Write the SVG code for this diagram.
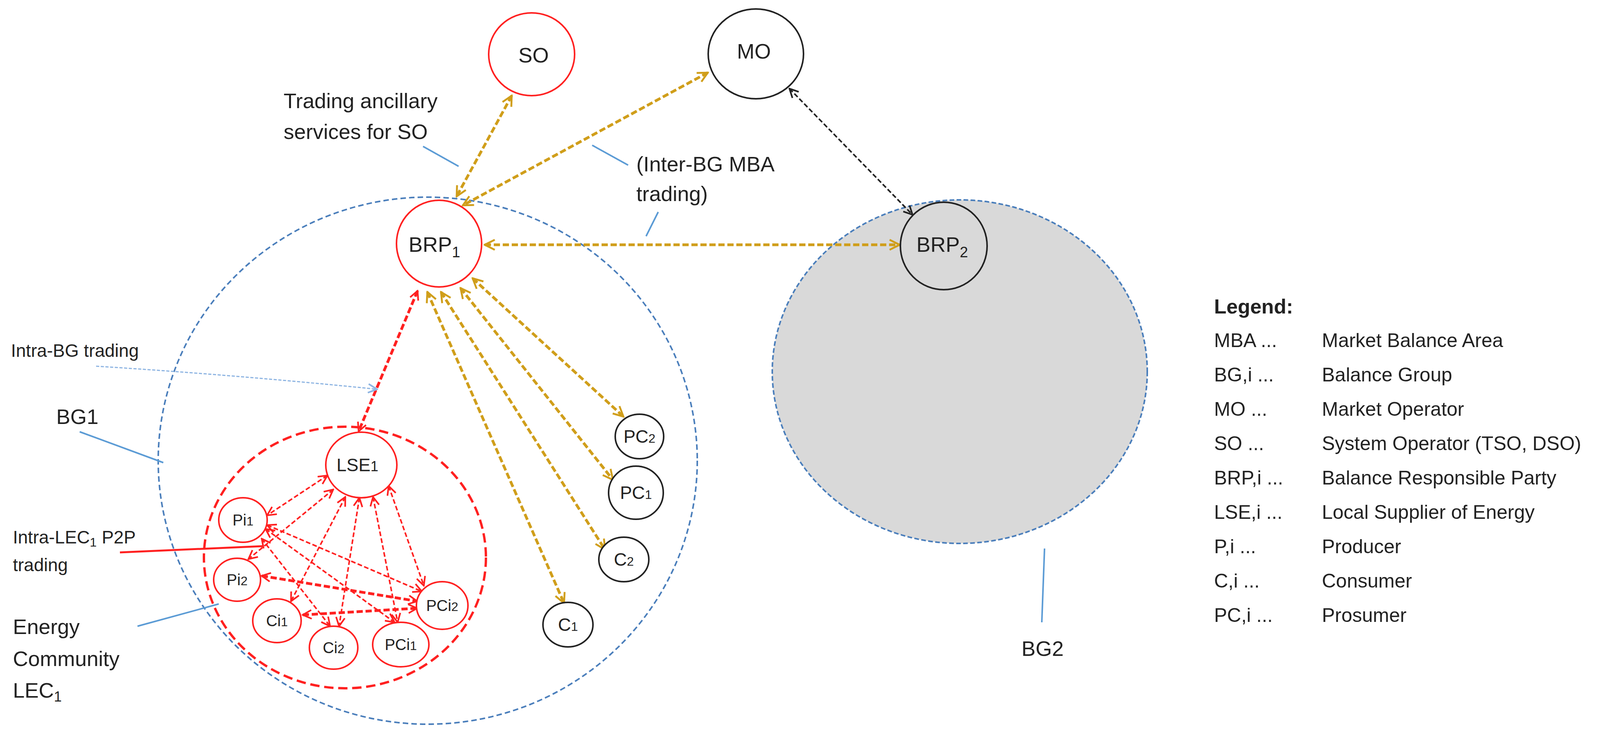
<svg xmlns="http://www.w3.org/2000/svg" width="4229" height="1875" viewBox="0 0 4229 1875">
<style>
text{font-family:"Liberation Sans",Arial,sans-serif;fill:#222}
.lbl{font-size:54px}
.nl{font-size:46px;text-anchor:middle}
.sl{font-size:40px;text-anchor:middle}
.gold{stroke:#D09E1A;stroke-width:7;stroke-dasharray:16 7;fill:none;marker-start:url(#ag);marker-end:url(#ag)}
.red{stroke:#FF2020;stroke-width:4;stroke-dasharray:12 6;fill:none;marker-start:url(#ar);marker-end:url(#ar)}
.redb{stroke:#FF2020;stroke-width:7;stroke-dasharray:16 7;fill:none;marker-start:url(#ar);marker-end:url(#ar)}
.lead{stroke:#5B9BD5;stroke-width:4;fill:none}
.rn{fill:#fff;stroke:#FF2020;stroke-width:4}
.bn{fill:#fff;stroke:#222;stroke-width:4}
</style>
<defs>
<marker id="ag" viewBox="0 0 20 20" refX="18" refY="10" markerWidth="32" markerHeight="32" markerUnits="userSpaceOnUse" orient="auto-start-reverse"><path d="M2,2 L18,10 L2,18" fill="none" stroke="#D09E1A" stroke-width="3"/></marker>
<marker id="ar" viewBox="0 0 20 20" refX="18" refY="10" markerWidth="28" markerHeight="28" markerUnits="userSpaceOnUse" orient="auto-start-reverse"><path d="M2,2 L18,10 L2,18" fill="none" stroke="#FF2020" stroke-width="3"/></marker>
<marker id="ak" viewBox="0 0 20 20" refX="18" refY="10" markerWidth="28" markerHeight="28" markerUnits="userSpaceOnUse" orient="auto-start-reverse"><path d="M2,2 L18,10 L2,18" fill="none" stroke="#222" stroke-width="3"/></marker>
<marker id="ab" viewBox="0 0 20 20" refX="18" refY="10" markerWidth="28" markerHeight="28" markerUnits="userSpaceOnUse" orient="auto"><path d="M2,2 L18,10 L2,18" fill="none" stroke="#8DB4E2" stroke-width="3"/></marker>
</defs>
<rect width="4229" height="1875" fill="#fff"/>

<g id="BG2"><ellipse cx="2457" cy="952" rx="480" ry="440" fill="#D9D9D9" stroke="#4A7EBB" stroke-width="4" stroke-dasharray="12 6"/></g>
<g id="BG1"><ellipse cx="1095" cy="1180" rx="690" ry="675" fill="none" stroke="#4A7EBB" stroke-width="4" stroke-dasharray="14 8"/></g>
<g id="LEC1"><ellipse cx="883" cy="1428" rx="361" ry="335" fill="none" stroke="#FF2020" stroke-width="6" stroke-dasharray="24 12"/></g>

<g id="connectors">
<line class="gold" x1="1310" y1="245" x2="1169" y2="503"/>
<line class="gold" x1="1812" y1="186" x2="1185" y2="526"/>
<line x1="2021" y1="227" x2="2336" y2="550" stroke="#222" stroke-width="4" stroke-dasharray="12 6" marker-start="url(#ak)" marker-end="url(#ak)"/>
<line class="gold" x1="1241" y1="627" x2="2303" y2="627"/>
<line class="gold" x1="1210" y1="713" x2="1596" y2="1067"/>
<line class="gold" x1="1179" y1="738" x2="1569" y2="1229"/>
<line class="gold" x1="1129" y1="748" x2="1549" y2="1408"/>
<line class="gold" x1="1094" y1="748" x2="1444" y2="1545"/>
<line class="redb" x1="1069" y1="745" x2="918" y2="1105"/>
<line class="red" x1="838" y1="1218" x2="684" y2="1320"/>
<line class="red" x1="853" y1="1254" x2="636" y2="1432"/>
<line class="red" x1="884" y1="1273" x2="745" y2="1540"/>
<line class="red" x1="920" y1="1275" x2="868" y2="1604"/>
<line class="red" x1="955" y1="1273" x2="1018" y2="1594"/>
<line class="red" x1="995" y1="1245" x2="1085" y2="1500"/>
<line class="red" x1="684" y1="1345" x2="1080" y2="1515"/>
<line class="red" x1="680" y1="1355" x2="1010" y2="1594"/>
<line class="red" x1="670" y1="1380" x2="845" y2="1604"/>
<line class="redb" x1="670" y1="1475" x2="1068" y2="1540"/>
<line class="redb" x1="775" y1="1575" x2="1068" y2="1558"/>
<path d="M246,938 Q600,960 965,997" fill="none" stroke="#8DB4E2" stroke-width="3" stroke-dasharray="8 4" marker-end="url(#ab)"/>
<line class="lead" x1="1083" y1="375" x2="1174" y2="426"/>
<line class="lead" x1="1516" y1="372" x2="1608" y2="423"/>
<line class="lead" x1="1685" y1="543" x2="1654" y2="605"/>
<line class="lead" x1="204" y1="1106" x2="418" y2="1185"/>
<line class="lead" x1="352" y1="1604" x2="560" y2="1547"/>
<line class="lead" x1="2674" y1="1405" x2="2667" y2="1594"/>
<line x1="307" y1="1415" x2="672" y2="1399" stroke="#FF2020" stroke-width="5"/>
</g>

<g id="SO"><ellipse class="rn" cx="1361" cy="139" rx="110" ry="106"/><text class="lbl" x="1366" y="160" text-anchor="middle">SO</text></g>
<g id="MO"><ellipse class="bn" cx="1935" cy="138" rx="122" ry="115"/><text class="lbl" x="1930" y="150" text-anchor="middle">MO</text></g>
<g id="BRP1"><ellipse class="rn" cx="1124" cy="624" rx="109" ry="111"/><text class="lbl" x="1112" y="645" text-anchor="middle">BRP<tspan font-size="38" dy="14">1</tspan></text></g>
<g id="BRP2"><ellipse class="bn" cx="2416" cy="630" rx="111" ry="112" style="fill:#D9D9D9"/><text class="lbl" x="2412" y="645" text-anchor="middle">BRP<tspan font-size="38" dy="14">2</tspan></text></g>
<g id="PC2"><ellipse class="bn" cx="1637" cy="1118" rx="62" ry="57"/><text class="nl" x="1637" y="1134">PC<tspan font-size="32">2</tspan></text></g>
<g id="PC1"><ellipse class="bn" cx="1628" cy="1262" rx="70" ry="68"/><text class="nl" x="1628" y="1278">PC<tspan font-size="32">1</tspan></text></g>
<g id="C2"><ellipse class="bn" cx="1597" cy="1433" rx="64" ry="57"/><text class="nl" x="1597" y="1449">C<tspan font-size="32">2</tspan></text></g>
<g id="C1"><ellipse class="bn" cx="1454" cy="1600" rx="64" ry="57"/><text class="nl" x="1454" y="1616">C<tspan font-size="32">1</tspan></text></g>
<g id="LSE1"><ellipse class="rn" cx="925" cy="1191" rx="91" ry="84"/><text class="nl" x="915" y="1207">LSE<tspan font-size="36">1</tspan></text></g>
<g id="Pi1"><ellipse class="rn" cx="622" cy="1332" rx="62" ry="57"/><text class="sl" x="622" y="1346">Pi<tspan font-size="32">1</tspan></text></g>
<g id="Pi2"><ellipse class="rn" cx="607" cy="1485" rx="60" ry="55"/><text class="sl" x="607" y="1499">Pi<tspan font-size="32">2</tspan></text></g>
<g id="Ci1"><ellipse class="rn" cx="709" cy="1590" rx="62" ry="56"/><text class="sl" x="709" y="1604">Ci<tspan font-size="32">1</tspan></text></g>
<g id="Ci2"><ellipse class="rn" cx="854" cy="1659" rx="62" ry="55"/><text class="sl" x="854" y="1673">Ci<tspan font-size="32">2</tspan></text></g>
<g id="PCi1"><ellipse class="rn" cx="1026" cy="1651" rx="72" ry="57"/><text class="sl" x="1026" y="1665">PCi<tspan font-size="32">1</tspan></text></g>
<g id="PCi2"><ellipse class="rn" cx="1132" cy="1551" rx="66" ry="61"/><text class="sl" x="1132" y="1565">PCi<tspan font-size="32">2</tspan></text></g>

<g id="labels">
<text class="lbl" x="726" y="277">Trading ancillary</text>
<text class="lbl" x="726" y="356">services for SO</text>
<text class="lbl" x="1629" y="439">(Inter-BG MBA</text>
<text class="lbl" x="1629" y="515">trading)</text>
<text x="28" y="914" font-size="46">Intra-BG trading</text>
<text class="lbl" x="144" y="1086">BG1</text>
<text x="33" y="1392" font-size="46">Intra-LEC<tspan font-size="32" dy="8">1</tspan><tspan dy="-8"> P2P</tspan></text>
<text x="33" y="1463" font-size="46">trading</text>
<text class="lbl" x="33" y="1624" fill="#555">Energy</text>
<text class="lbl" x="33" y="1706">Community</text>
<text class="lbl" x="33" y="1787">LEC<tspan font-size="36" dy="10">1</tspan></text>
<text class="lbl" x="2669" y="1680" text-anchor="middle" fill="#444">BG2</text>
</g>

<g id="legend" font-size="50">
<text x="3108" y="803" font-weight="bold" font-size="52">Legend:</text>
<text x="3108" y="889">MBA ...</text><text x="3384" y="889">Market Balance Area</text>
<text x="3108" y="977">BG,i ...</text><text x="3384" y="977">Balance Group</text>
<text x="3108" y="1065">MO ...</text><text x="3384" y="1065">Market Operator</text>
<text x="3108" y="1153">SO ...</text><text x="3384" y="1153">System Operator (TSO, DSO)</text>
<text x="3108" y="1241">BRP,i ...</text><text x="3384" y="1241">Balance Responsible Party</text>
<text x="3108" y="1329">LSE,i ...</text><text x="3384" y="1329">Local Supplier of Energy</text>
<text x="3108" y="1417">P,i ...</text><text x="3384" y="1417">Producer</text>
<text x="3108" y="1505">C,i ...</text><text x="3384" y="1505">Consumer</text>
<text x="3108" y="1593">PC,i ...</text><text x="3384" y="1593">Prosumer</text>
</g>
</svg>
